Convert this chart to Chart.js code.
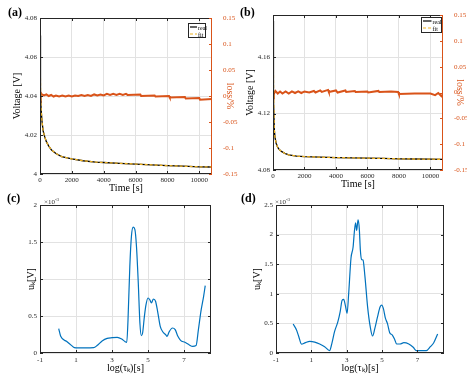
<!DOCTYPE html>
<html>
<head>
<meta charset="utf-8">
<script src="https://cdn.jsdelivr.net/npm/chart.js@4.4.1/dist/chart.umd.min.js"></script>
<style>
  body { margin: 0; background: #fff; width: 467px; height: 379px; position: relative; overflow: hidden; font-family: 'Liberation Serif', serif; }
  canvas { position: absolute; }
  .tag { position: absolute; font-weight: bold; font-size: 12px; color: #000; }
  .exp { position: absolute; font-size: 7px; color: #333; }
  .exp sup { font-size: 5px; }
</style>
</head>
<body>
<canvas id="ca" width="240" height="195" style="left:0;top:0"></canvas>
<canvas id="cb" width="237" height="192" style="left:230px;top:0"></canvas>
<canvas id="cc" width="240" height="184" style="left:0;top:195px"></canvas>
<canvas id="cd" width="237" height="184" style="left:230px;top:195px"></canvas>
<div class="tag" style="left:8px;top:5px">(a)</div>
<div class="tag" style="left:240px;top:5px">(b)</div>
<div class="tag" style="left:7px;top:191px">(c)</div>
<div class="tag" style="left:241px;top:191px">(d)</div>
<div class="exp" style="left:44px;top:197px">×10<sup>-3</sup></div>
<div class="exp" style="left:275px;top:197px">×10<sup>-3</sup></div>
<script>
// ---- data ----
const timeTicks = [0, 2000, 4000, 6000, 8000, 10000]
const lossTicks = [-0.15, -0.1, -0.05, 0, 0.05, 0.1, 0.15]
const voltTicksA = [4, 4.02, 4.04, 4.06, 4.08]
const voltTicksB = [4.08, 4.12, 4.16]
const logTicks = [-1, 1, 3, 5, 7]
const uTicksC = [0, 0.5, 1, 1.5, 2]
const uTicksD = [0, 0.5, 1, 1.5, 2, 2.5]

// (a) voltage relaxation, real and fit
const timeA = [0, 20, 43, 80, 128, 200, 300, 400, 550, 725, 1000, 1360, 2000, 2700, 3490, 4000, 5000, 6000, 7000, 8000, 9000, 10000, 10800]
const voltA = [4.071, 4.052, 4.039, 4.032, 4.0268, 4.022, 4.019, 4.0166, 4.0143, 4.0123, 4.0105, 4.0089, 4.0077, 4.0068, 4.0061, 4.0059, 4.0055, 4.0051, 4.0047, 4.0043, 4.004, 4.0037, 4.0036]
const fitA = [4.075, 4.053, 4.039, 4.032, 4.0268, 4.022, 4.019, 4.0166, 4.0143, 4.0123, 4.0105, 4.0089, 4.0077, 4.0068, 4.0061, 4.0059, 4.0055, 4.0051, 4.0047, 4.0043, 4.004, 4.0037, 4.0036]
const lossTimeA = [0, 30, 60, 120, 250, 400, 550, 700, 850, 1000, 1200, 1400, 1600, 1800, 2000, 2200, 2400, 2600, 2800, 3000, 3200, 3400, 3600, 3800, 4000, 4200, 4400, 4600, 4800, 5000, 5200, 5400, 5500, 6300, 6350, 7200, 7250, 8100, 8150, 9100, 9150, 10000, 10050, 10800]
const lossA = [-0.012, 0.008, 0.002, 0.003, 0.001, 0.003, 0.0, 0.002, -0.001, 0.001, -0.001, 0.001, -0.001, 0.001, -0.001, 0.001, 0.0, 0.002, 0.0, 0.002, 0.0, 0.003, 0.001, 0.003, 0.001, 0.004, 0.002, 0.004, 0.002, 0.004, 0.002, 0.004, 0.002, 0.003, 0.0, 0.001, -0.001, 0.0, -0.003, -0.002, -0.005, -0.004, -0.007, -0.006]

// (b)
const timeB = [0, 15, 45, 80, 128, 200, 300, 400, 558, 750, 1000, 1500, 2000, 3000, 4000, 5000, 6000, 7000, 8000, 9000, 10000, 10800]
const voltB = [4.186, 4.16, 4.13, 4.109, 4.1029, 4.099, 4.096, 4.0945, 4.093, 4.0918, 4.0907, 4.0899, 4.0895, 4.0891, 4.0888, 4.0886, 4.0884, 4.0882, 4.0879, 4.0878, 4.0877, 4.0876]
const fitB = [4.19, 4.16, 4.13, 4.109, 4.1029, 4.099, 4.096, 4.0945, 4.093, 4.0918, 4.0907, 4.0899, 4.0895, 4.0891, 4.0888, 4.0886, 4.0884, 4.0882, 4.0879, 4.0878, 4.0877, 4.0876]
const lossTimeB = [0, 50, 150, 300, 450, 600, 800, 1000, 1200, 1400, 1600, 1800, 2000, 2300, 2600, 2700, 3000, 3100, 3500, 3550, 4000, 4100, 4600, 4650, 5200, 5250, 6000, 6050, 6700, 6750, 7500, 7950, 8000, 9000, 10000, 10300, 10500, 10700, 10800]
const lossB = [0.002, -0.003, 0.003, -0.002, 0.002, -0.002, 0.002, -0.002, 0.002, -0.001, 0.002, -0.001, 0.002, 0.0, 0.003, 0.0, 0.004, 0.001, 0.005, 0.001, 0.004, 0.0, 0.004, 0.001, 0.003, 0.001, 0.002, 0.0, 0.003, 0.001, 0.002, 0.001, -0.003, -0.002, -0.002, -0.005, -0.001, -0.007, -0.003]

// (c) and (d) distribution of relaxation times, u_k in 1e-3 V
const tauC = [0.04, 0.15, 0.47, 0.76, 0.91, 1.13, 1.5, 1.98, 2.17, 2.45, 2.73, 3.01, 3.29, 3.54, 3.73, 3.82, 3.89, 3.99, 4.08, 4.18, 4.27, 4.36, 4.46, 4.55, 4.63, 4.7, 4.8, 4.89, 5.0, 5.1, 5.19, 5.3, 5.42, 5.55, 5.68, 5.83, 5.98, 6.06, 6.17, 6.36, 6.51, 6.66, 6.81, 7.05, 7.3, 7.48, 7.67, 7.8, 7.94, 8.09, 8.18]
const uC = [0.33, 0.225, 0.158, 0.1, 0.072, 0.068, 0.068, 0.072, 0.1, 0.162, 0.198, 0.207, 0.212, 0.189, 0.153, 0.144, 0.45, 1.17, 1.58, 1.7, 1.67, 1.44, 0.946, 0.405, 0.234, 0.27, 0.495, 0.653, 0.743, 0.72, 0.676, 0.73, 0.7, 0.54, 0.36, 0.284, 0.248, 0.225, 0.284, 0.338, 0.315, 0.225, 0.171, 0.144, 0.108, 0.09, 0.1, 0.315, 0.563, 0.766, 0.91]
const tauD = [-0.03, 0.16, 0.29, 0.44, 0.63, 0.91, 1.19, 1.47, 1.75, 2.03, 2.16, 2.31, 2.5, 2.63, 2.74, 2.83, 2.93, 3.02, 3.11, 3.24, 3.36, 3.43, 3.5, 3.56, 3.64, 3.71, 3.77, 3.84, 3.92, 4.03, 4.18, 4.33, 4.46, 4.59, 4.74, 4.89, 4.98, 5.07, 5.19, 5.3, 5.43, 5.58, 5.71, 5.82, 6.01, 6.23, 6.51, 6.76, 6.94, 7.17, 7.5, 7.73, 7.92, 8.14]
const uD = [0.49, 0.39, 0.275, 0.15, 0.17, 0.197, 0.185, 0.152, 0.107, 0.04, 0.163, 0.36, 0.53, 0.7, 0.89, 0.905, 0.79, 0.67, 1.005, 1.6, 1.79, 2.045, 2.2, 2.07, 2.25, 2.1, 1.74, 1.58, 1.57, 1.29, 0.78, 0.44, 0.287, 0.416, 0.61, 0.78, 0.81, 0.753, 0.584, 0.5, 0.343, 0.303, 0.23, 0.152, 0.152, 0.174, 0.152, 0.096, 0.04, 0.04, 0.04, 0.107, 0.174, 0.32]

// ---- styling ----
const FONT = "'Liberation Serif', serif"
const ORANGE = '#D95319'
const BLUE = '#0072BD'
const FIT = '#EDB120'
const AXIS = '#262626'
Chart.defaults.font.family = FONT
Chart.defaults.color = AXIS
Chart.defaults.animation = false

const tickFont = { family: FONT, size: 7 }
const titleFont = { family: FONT, size: 10 }
const grid = { color: '#e2e2e2', drawTicks: false }

const pts = (xs, ys) => xs.map((x, i) => ({ x, y: ys[i] }))
const fixTicks = (arr) => (s) => { s.ticks = arr.map((v) => ({ value: v })) }
const label = (v) => String(v)

// box round the plot and small inward ticks, matlab style
const frame = {
  id: 'frame',
  afterDatasetsDraw(chart, args, o) {
    const { ctx, chartArea: a, scales } = chart
    ctx.save()
    ctx.lineWidth = 1
    ctx.strokeStyle = AXIS
    ctx.strokeRect(a.left + 0.5, a.top + 0.5, a.width - 1, a.height - 1)
    const tick = (x1, y1, x2, y2, c) => {
      ctx.strokeStyle = c
      ctx.beginPath(); ctx.moveTo(x1, y1); ctx.lineTo(x2, y2); ctx.stroke()
    }
    scales.x.ticks.forEach((t) => {
      const px = Math.round(scales.x.getPixelForValue(t.value)) + 0.5
      tick(px, a.bottom, px, a.bottom - 3, AXIS)
      tick(px, a.top, px, a.top + 3, AXIS)
    })
    scales.y.ticks.forEach((t) => {
      const py = Math.round(scales.y.getPixelForValue(t.value)) + 0.5
      tick(a.left, py, a.left + 3, py, AXIS)
      if (!scales.y1) tick(a.right, py, a.right - 3, py, AXIS)
    })
    if (scales.y1) {
      tick(a.right - 0.5, a.top, a.right - 0.5, a.bottom, ORANGE)
      scales.y1.ticks.forEach((t) => {
        const py = Math.round(scales.y1.getPixelForValue(t.value)) + 0.5
        tick(a.right, py, a.right - 3, py, ORANGE)
      })
    }
    ctx.restore()
  },
}

const boxLegend = {
  id: 'boxLegend',
  afterDraw(chart, args, o) {
    if (!o.show) return
    const { ctx, chartArea: a } = chart
    const x = a.right - o.right - o.w
    const y = a.top + o.top
    ctx.save()
    ctx.fillStyle = '#fff'
    ctx.fillRect(x, y, o.w, o.h)
    ctx.strokeStyle = AXIS
    ctx.lineWidth = 1
    ctx.strokeRect(x + 0.5, y + 0.5, o.w - 1, o.h - 1)
    ctx.font = '6px ' + FONT
    ctx.textBaseline = 'middle'
    o.labels.forEach((name, i) => {
      const ds = chart.data.datasets.find((d) => d.label === name)
      const ly = y + 4 + i * 7
      ctx.strokeStyle = ds.borderColor
      ctx.lineWidth = 1.2
      ctx.setLineDash(ds.borderDash || [])
      ctx.beginPath(); ctx.moveTo(x + 2, ly); ctx.lineTo(x + o.w * 0.5, ly); ctx.stroke()
      ctx.setLineDash([])
      ctx.fillStyle = '#000'
      ctx.fillText(name, x + o.w * 0.5 + 1, ly + 1)
    })
    ctx.restore()
  },
}

const voltChart = (id, lay, timeX, volt, fit, lossX, loss, vMin, vMax, vTicks) =>
  new Chart(document.getElementById(id), {
    type: 'line',
    data: {
      datasets: [
        { label: 'fit', data: pts(timeX, fit), borderColor: FIT, borderDash: [3, 2], borderWidth: 1.3, pointRadius: 0, yAxisID: 'y' },
        { label: 'real', data: pts(timeX, volt), borderColor: '#000', borderWidth: 1.3, pointRadius: 0, yAxisID: 'y' },
        { label: 'loss', data: pts(lossX, loss), borderColor: ORANGE, borderWidth: 2, pointRadius: 0, yAxisID: 'y1' },
      ],
    },
    options: {
      responsive: false,
      devicePixelRatio: 1,
      layout: { padding: { top: lay.top, left: 0, right: 0, bottom: 0 } },
      plugins: {
        legend: { display: false },
        tooltip: { enabled: false },
        boxLegend: { show: true, labels: ['real', 'fit'], ...lay.legend },
      },
      scales: {
        x: {
          type: 'linear', min: 0, max: 10800,
          afterBuildTicks: fixTicks(timeTicks),
          afterFit: (s) => { s.height = lay.xh },
          ticks: { font: tickFont, padding: 2, maxRotation: 0, autoSkip: false, callback: label },
          grid, border: { display: false },
          title: { display: true, text: 'Time [s]', font: titleFont, color: '#000', padding: { top: 0, bottom: lay.xt } },
        },
        y: {
          type: 'linear', min: vMin, max: vMax,
          afterBuildTicks: fixTicks(vTicks),
          afterFit: (s) => { s.width = lay.yl },
          ticks: { font: tickFont, padding: 3, autoSkip: false, callback: label },
          grid, border: { display: false },
          title: { display: true, text: 'Voltage [V]', font: titleFont, color: '#000', padding: { top: lay.ylt, bottom: 0 } },
        },
        y1: {
          type: 'linear', position: 'right', min: -0.15, max: 0.15,
          afterBuildTicks: fixTicks(lossTicks),
          afterFit: (s) => { s.width = lay.yr },
          ticks: { font: tickFont, padding: 3, color: ORANGE, autoSkip: false, callback: label },
          grid: { display: false }, border: { display: false },
          title: { display: true, text: 'loss/%', font: titleFont, color: ORANGE, padding: { top: lay.yrt, bottom: 0 } },
        },
      },
    },
    plugins: [frame, boxLegend],
  })

const drtChart = (id, lay, tau, u, uMax, uTicks) =>
  new Chart(document.getElementById(id), {
    type: 'line',
    data: {
      datasets: [
        { label: 'u', data: pts(tau, u), borderColor: BLUE, borderWidth: 1.2, pointRadius: 0, cubicInterpolationMode: 'monotone' },
      ],
    },
    options: {
      responsive: false,
      devicePixelRatio: 1,
      layout: { padding: { top: lay.top, left: 0, right: lay.right, bottom: 0 } },
      plugins: { legend: { display: false }, tooltip: { enabled: false } },
      scales: {
        x: {
          type: 'linear', min: -1, max: 8.5,
          afterBuildTicks: fixTicks(logTicks),
          afterFit: (s) => { s.height = lay.xh },
          ticks: { font: tickFont, padding: 3, maxRotation: 0, autoSkip: false, callback: label },
          grid, border: { display: false },
          title: { display: true, text: 'log(τₖ)[s]', font: titleFont, color: '#000', padding: { top: 0, bottom: lay.xt } },
        },
        y: {
          type: 'linear', min: 0, max: uMax,
          afterBuildTicks: fixTicks(uTicks),
          afterFit: (s) => { s.width = lay.yl },
          ticks: { font: tickFont, padding: 3, autoSkip: false, callback: label },
          grid, border: { display: false },
          title: { display: true, text: 'uₖ[V]', font: titleFont, color: '#000', padding: { top: lay.ylt, bottom: 0 } },
        },
      },
    },
    plugins: [frame],
  })

voltChart('ca', { top: 18, xh: 21, xt: 1, yl: 40, ylt: 11, yr: 28, yrt: 4, legend: { w: 18, h: 15, right: 6, top: 5 } },
  timeA, voltA, fitA, lossTimeA, lossA, 4, 4.08, voltTicksA)
voltChart('cb', { top: 15, xh: 22, xt: 2, yl: 43, ylt: 14, yr: 24, yrt: 1, legend: { w: 21, h: 16, right: 1, top: 2 } },
  timeB, voltB, fitB, lossTimeB, lossB, 4.08, 4.19, voltTicksB)
drtChart('cc', { top: 10, right: 29, xh: 26, xt: 5, yl: 40, ylt: 25 }, tauC, uC, 2, uTicksC)
drtChart('cd', { top: 10, right: 23, xh: 26, xt: 5, yl: 46, ylt: 21 }, tauD, uD, 2.5, uTicksD)
</script>
</body>
</html>
